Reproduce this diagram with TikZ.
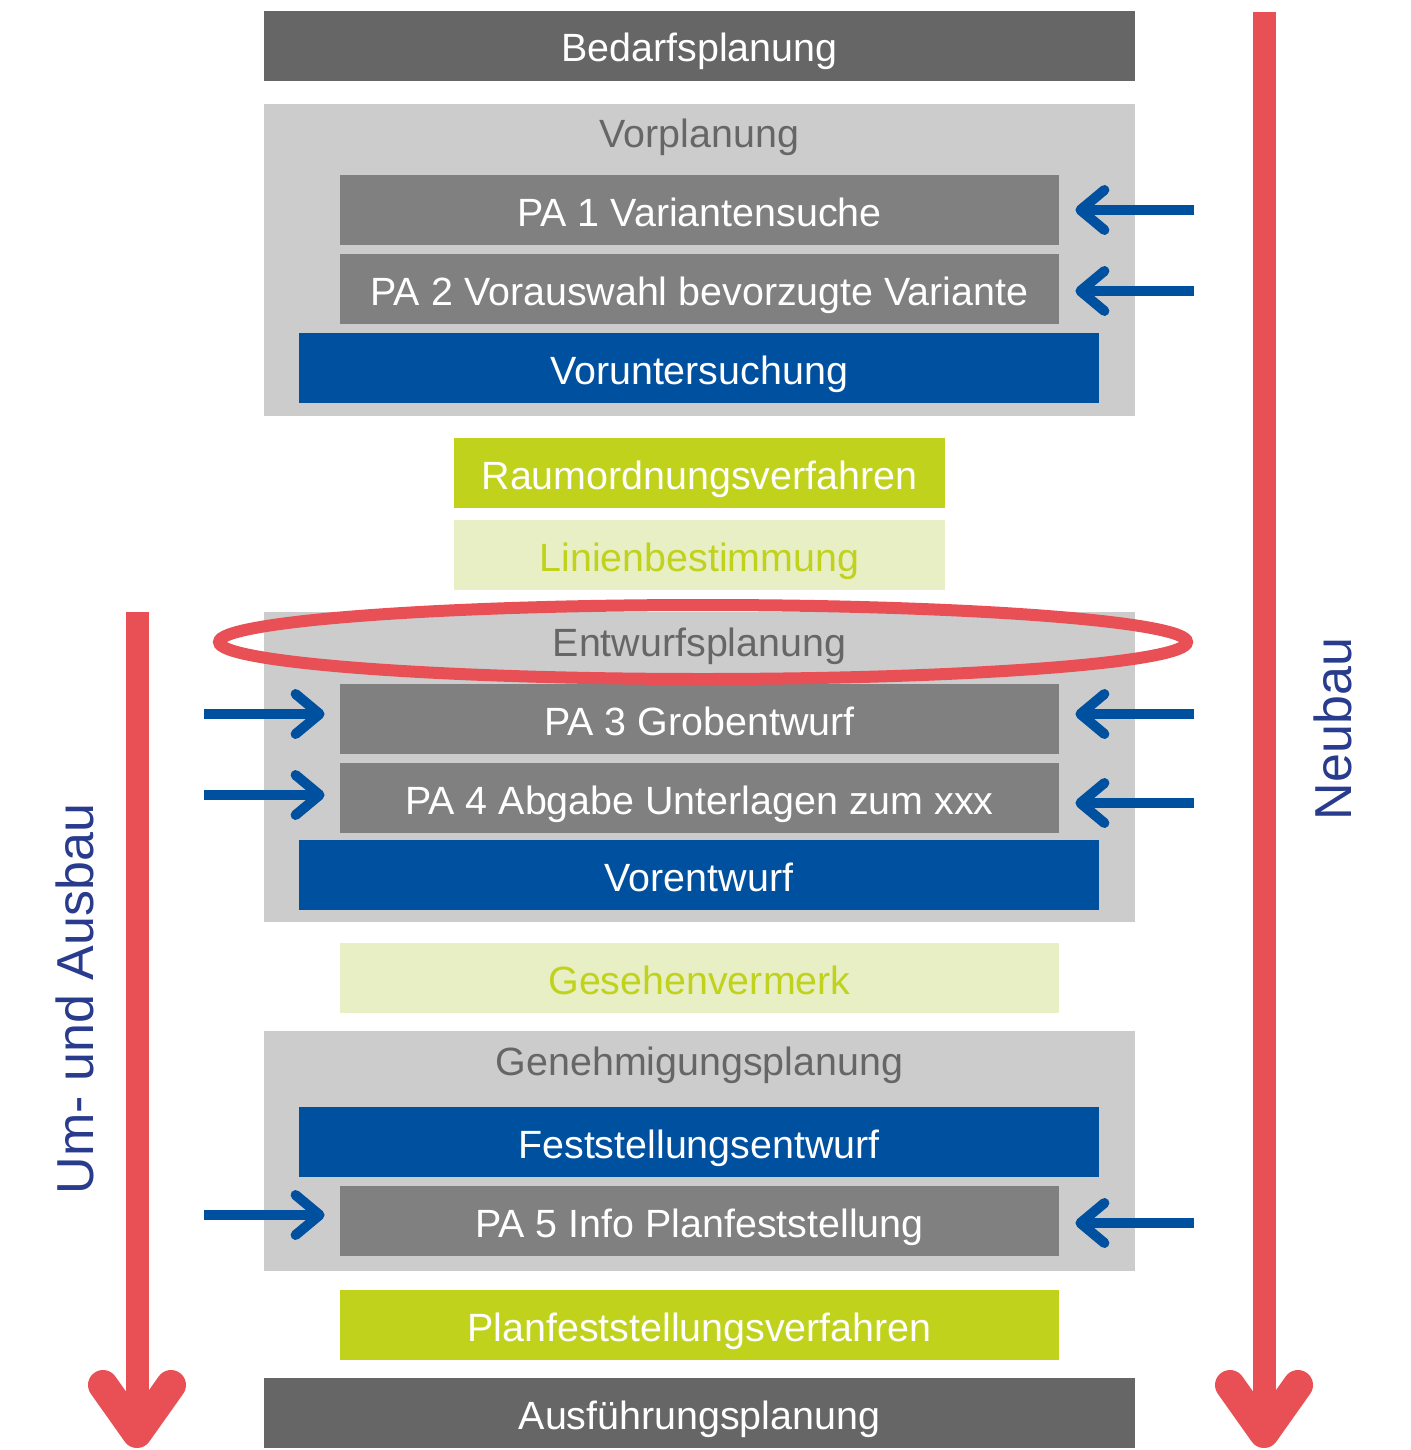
\documentclass[tikz,border=0pt]{standalone}
\usepackage{fontspec}
\setmainfont{Liberation Sans}
\usetikzlibrary{arrows.meta,shapes.geometric}
\definecolor{cdark}{HTML}{666666}
\definecolor{cmid}{HTML}{808080}
\definecolor{clight}{HTML}{CCCCCC}
\definecolor{cblue}{HTML}{0050A0}
\definecolor{clime}{HTML}{C0D21B}
\definecolor{clightlime}{HTML}{E8EFC4}
\definecolor{cred}{HTML}{E95055}
\definecolor{cnavy}{HTML}{283B8C}
\tikzset{
  bx/.style={rectangle, inner sep=0pt, minimum height=35pt, text height=16pt, text depth=0pt, font=\fontsize{19.7pt}{22pt}\selectfont, text=white},
  full/.style={bx, minimum width=435.5pt},
  mid/.style={bx, minimum width=400pt},
  narrow/.style={bx, minimum width=359.5pt},
  short/.style={bx, minimum width=245.5pt},
  grp/.style={rectangle, inner sep=0pt, fill=clight, minimum width=435.5pt},
  gtitle/.style={inner sep=0pt, text height=16pt, text depth=0pt, font=\fontsize{19.7pt}{22pt}\selectfont, text=cdark},
  barrow/.style={draw=cblue, line width=5pt, -{Straight Barb[length=12pt,width=20pt,round]}},
  rarrow/.style={draw=cred, line width=11.5pt, -{Straight Barb[length=24pt,width=34pt,line width=15pt,round]}},
  side/.style={inner sep=0pt, text=cnavy, rotate=90, font=\fontsize{26pt}{30pt}\selectfont},
}
\begin{document}
\begin{tikzpicture}[x=0.5pt,y=-0.5pt]
\useasboundingbox (0,0) rectangle (1410,1450);
% groups
\node[grp, minimum height=156pt] (g1) at (699.5,260) {};
\node[grp, minimum height=155pt] (g2) at (699.5,767) {};
\node[grp, minimum height=120pt] (g3) at (699.5,1151) {};
\node[gtitle] (t1) at (699.5,132) {Vorplanung};
\node[gtitle] (t2) at (699.5,640) {Entwurfsplanung};
\node[gtitle] (t3) at (699.5,1059) {Genehmigungsplanung};
% boxes
\node[full, fill=cdark] (bed) at (699.5,46) {Bedarfsplanung};
\node[narrow, fill=cmid] (pa1) at (699.5,210) {PA 1 Variantensuche};
\node[narrow, fill=cmid] (pa2) at (699.5,289) {PA 2 Vorauswahl bevorzugte Variante};
\node[mid, fill=cblue] (vu) at (699,368) {Voruntersuchung};
\node[short, fill=clime] (rov) at (699.5,473) {Raumordnungsverfahren};
\node[short, fill=clightlime, text=clime] (lb) at (699.5,555) {Linienbestimmung};
\node[narrow, fill=cmid] (pa3) at (699.5,719) {PA 3 Grobentwurf};
\node[narrow, fill=cmid] (pa4) at (699.5,798) {PA 4 Abgabe Unterlagen zum xxx};
\node[mid, fill=cblue] (ve) at (699,875) {Vorentwurf};
\node[narrow, fill=clightlime, text=clime] (gv) at (699.5,978) {Gesehenvermerk};
\node[mid, fill=cblue] (fe) at (699,1142) {Feststellungsentwurf};
\node[narrow, fill=cmid] (pa5) at (699.5,1221) {PA 5 Info Planfeststellung};
\node[narrow, fill=clime] (pfv) at (699.5,1325) {Planfeststellungsverfahren};
\node[full, fill=cdark] (af) at (699.5,1413) {Ausführungsplanung};
% ellipse highlight
\node[ellipse, draw=cred, line width=6pt, minimum width=484pt, minimum height=37pt, inner sep=0pt] (ring) at (703,642) {};
% blue arrows
\coordinate (r1) at (1194,210);
\coordinate (r2) at (1194,291);
\coordinate (r3) at (1194,714);
\coordinate (r4) at (1194,803);
\coordinate (r5) at (1194,1223);
\coordinate (l3) at (204,714);
\coordinate (l4) at (204,795);
\coordinate (l5) at (204,1215);
\draw[barrow] (r1) -- ([xshift=8pt]pa1.east |- r1);
\draw[barrow] (r2) -- ([xshift=8pt]pa2.east |- r2);
\draw[barrow] (r3) -- ([xshift=8pt]pa3.east |- r3);
\draw[barrow] (r4) -- ([xshift=8pt]pa4.east |- r4);
\draw[barrow] (r5) -- ([xshift=8pt]pa5.east |- r5);
\draw[barrow] (l3) -- ([xshift=-7.5pt]pa3.west |- l3);
\draw[barrow] (l4) -- ([xshift=-7.5pt]pa4.west |- l4);
\draw[barrow] (l5) -- ([xshift=-7.5pt]pa5.west |- l5);
% red arrows
\coordinate (nb0) at (1264,12);
\coordinate (nb1) at (1264,1448);
\coordinate (ua0) at (137,612);
\coordinate (ua1) at (137,1448);
\draw[rarrow] (nb0) -- (nb1);
\draw[rarrow] (ua0) -- (ua1);
\node[side] (nb) at (1333,729) {Neubau};
\node[side] (ua) at (75,999) {Um- und Ausbau};
\end{tikzpicture}
\end{document}
